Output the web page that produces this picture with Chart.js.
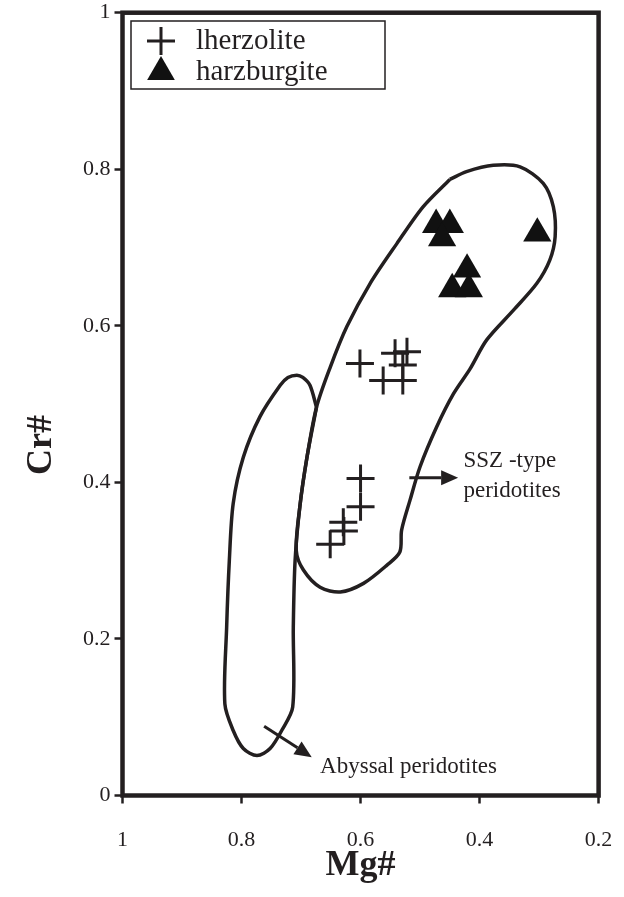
<!DOCTYPE html>
<html>
<head>
<meta charset="utf-8">
<script src="https://cdn.jsdelivr.net/npm/chart.js@4.4.1/dist/chart.umd.min.js"></script>
<style>
  html, body { margin: 0; padding: 0; background: #fff; }
  #wrap { width: 624px; height: 897px; position: relative; }
</style>
</head>
<body>
<div id="wrap"><canvas id="c" width="624" height="897"></canvas></div>
<script>
// Spinel Mg# vs Cr# discrimination diagram

// Lherzolite samples
const lherzMg = [0.601, 0.562, 0.542, 0.522, 0.529, 0.529, 0.600, 0.600, 0.629, 0.628, 0.651];
const lherzCr = [0.552, 0.530, 0.565, 0.567, 0.550, 0.530, 0.405, 0.369, 0.349, 0.338, 0.321];

// Harzburgite samples
const harzMg = [0.473, 0.450, 0.463, 0.303, 0.421, 0.446, 0.418];
const harzCr = [0.729, 0.729, 0.712, 0.718, 0.672, 0.647, 0.647];

// SSZ-type peridotite field outline
const sszMg = [0.450, 0.422, 0.377, 0.332, 0.293, 0.276, 0.273, 0.282, 0.304, 0.343, 0.388, 0.416,
               0.444, 0.472, 0.500, 0.517, 0.531, 0.534, 0.556, 0.595, 0.634, 0.668, 0.696, 0.708,
               0.702, 0.690, 0.674, 0.651, 0.623, 0.584, 0.539, 0.495, 0.450];
const sszCr = [0.787, 0.797, 0.805, 0.803, 0.782, 0.752, 0.714, 0.684, 0.654, 0.620, 0.582, 0.545,
               0.513, 0.471, 0.420, 0.377, 0.339, 0.311, 0.294, 0.271, 0.260, 0.266, 0.288, 0.313,
               0.369, 0.432, 0.496, 0.547, 0.599, 0.654, 0.705, 0.752, 0.787];

// Abyssal peridotite field outline
const abyMg = [0.674, 0.685, 0.697, 0.707, 0.722, 0.735, 0.769, 0.797, 0.814, 0.8205, 0.825, 0.828,
               0.814, 0.797, 0.774, 0.752, 0.7325, 0.714, 0.713, 0.710, 0.702, 0.690, 0.674];
const abyCr = [0.496, 0.524, 0.534, 0.537, 0.534, 0.524, 0.484, 0.432, 0.373, 0.300, 0.215, 0.117,
               0.083, 0.060, 0.051, 0.060, 0.083, 0.113, 0.215, 0.300, 0.369, 0.432, 0.496];

// Field label arrows (tail -> head)
const sszArrowMg = [0.518, 0.436];
const sszArrowCr = [0.406, 0.406];
const abyArrowMg = [0.762, 0.682];
const abyArrowCr = [0.0886, 0.049];

// Field labels
const fieldLabels = [
  { lines: ['SSZ -type', 'peridotites'], mg: 0.427, cr: 0.427 },
  { lines: ['Abyssal peridotites'], mg: 0.668, cr: 0.037 }
];

// Axis ticks
const xTicks = [1, 0.8, 0.6, 0.4, 0.2];
const yTicks = [0, 0.2, 0.4, 0.6, 0.8, 1];
const xTickLabels = ['1', '0.8', '0.6', '0.4', '0.2'];
const yTickLabels = ['0', '0.2', '0.4', '0.6', '0.8', '1'];

const INK = '#231f20';
const SERIF = "'Liberation Serif', 'Times New Roman', serif";

const pts = (xs, ys) => xs.map((x, i) => ({ x, y: ys[i] }));

const decorPlugin = {
  id: 'decor',
  afterDatasetsDraw(chart) {
    const { ctx, chartArea: a, scales: { x, y } } = chart;
    ctx.save();

    // arrows
    const arrow = (mg, cr) => {
      const x1 = x.getPixelForValue(mg[0]), y1 = y.getPixelForValue(cr[0]);
      const x2 = x.getPixelForValue(mg[1]), y2 = y.getPixelForValue(cr[1]);
      const ang = Math.atan2(y2 - y1, x2 - x1);
      const hl = 17, hw = 7.5;
      const bx = x2 - Math.cos(ang) * hl, by = y2 - Math.sin(ang) * hl;
      ctx.strokeStyle = INK; ctx.fillStyle = INK; ctx.lineWidth = 3;
      ctx.beginPath(); ctx.moveTo(x1, y1); ctx.lineTo(bx, by); ctx.stroke();
      ctx.beginPath();
      ctx.moveTo(x2, y2);
      ctx.lineTo(bx + Math.sin(ang) * hw, by - Math.cos(ang) * hw);
      ctx.lineTo(bx - Math.sin(ang) * hw, by + Math.cos(ang) * hw);
      ctx.closePath(); ctx.fill();
    };
    arrow(sszArrowMg, sszArrowCr);
    arrow(abyArrowMg, abyArrowCr);

    // field labels
    ctx.fillStyle = INK;
    ctx.font = '23px ' + SERIF;
    ctx.textAlign = 'left';
    ctx.textBaseline = 'middle';
    fieldLabels.forEach(l => {
      const px = x.getPixelForValue(l.mg), py = y.getPixelForValue(l.cr);
      l.lines.forEach((t, i) => ctx.fillText(t, px, py + i * 30));
    });

    // plot frame
    ctx.strokeStyle = INK; ctx.lineWidth = 4.5;
    ctx.strokeRect(a.left, a.top, a.right - a.left, a.bottom - a.top);

    // legend
    const lx = 131, ly = 21, lw = 254, lh = 68;
    ctx.fillStyle = '#fff';
    ctx.fillRect(lx, ly, lw, lh);
    ctx.lineWidth = 1.5; ctx.strokeStyle = INK;
    ctx.strokeRect(lx, ly, lw, lh);
    const ds = chart.data.datasets;
    const items = [ds[2], ds[3]];
    items.forEach((d, i) => {
      const cy = ly + 20 + i * 31;
      ctx.fillStyle = d.backgroundColor; ctx.strokeStyle = d.borderColor;
      ctx.lineWidth = d.borderWidth || 1;
      Chart.helpers.drawPoint(ctx, {
        pointStyle: d.pointStyle, radius: d.pointStyle === 'triangle' ? 16 : 14,
        borderWidth: d.borderWidth, rotation: 0
      }, 161, cy);
    });
    ctx.fillStyle = INK;
    ctx.font = '29px ' + SERIF;
    ctx.textAlign = 'left'; ctx.textBaseline = 'middle';
    items.forEach((d, i) => ctx.fillText(d.label, 196, ly + 20 + i * 31));

    // axis titles
    ctx.font = 'bold 36px ' + SERIF;
    ctx.textAlign = 'center'; ctx.textBaseline = 'middle';
    ctx.fillText('Mg#', (a.left + a.right) / 2, 866);
    ctx.save();
    ctx.translate(42, 445);
    ctx.rotate(-Math.PI / 2);
    ctx.fillText('Cr#', 0, 0);
    ctx.restore();

    ctx.restore();
  }
};

const outline = (data) => ({
  type: 'line',
  data,
  borderColor: INK,
  borderWidth: 3.5,
  pointRadius: 0,
  tension: 0.3,
  fill: false,
  clip: false
});

new Chart(document.getElementById('c'), {
  type: 'scatter',
  data: {
    datasets: [
      Object.assign(outline(pts(sszMg, sszCr)), { label: 'SSZ-type peridotites' }),
      Object.assign(outline(pts(abyMg, abyCr)), { label: 'Abyssal peridotites' }),
      {
        label: 'lherzolite',
        data: pts(lherzMg, lherzCr),
        pointStyle: 'cross',
        pointRadius: 14,
        borderWidth: 3,
        borderColor: INK,
        backgroundColor: INK
      },
      {
        label: 'harzburgite',
        data: pts(harzMg, harzCr),
        pointStyle: 'triangle',
        pointRadius: 16.3,
        borderWidth: 0,
        borderColor: INK,
        backgroundColor: '#111'
      }
    ]
  },
  options: {
    responsive: false,
    animation: false,
    devicePixelRatio: 1,
    layout: { autoPadding: false, padding: { top: 12.7, right: 25.4, left: 0, bottom: 0 } },
    plugins: { legend: { display: false }, tooltip: { enabled: false } },
    scales: {
      x: {
        type: 'linear', reverse: true, min: 0.2, max: 1,
        afterFit: s => { s.height = 101.5; s.paddingLeft = 0; s.paddingRight = 0; },
        afterBuildTicks: s => { s.ticks = xTicks.map(v => ({ value: v })); },
        ticks: {
          callback: (v) => xTickLabels[xTicks.indexOf(v)],
          font: { family: SERIF, size: 22 }, color: INK, padding: 24, maxRotation: 0
        },
        grid: { drawOnChartArea: false, drawTicks: true, tickLength: 8, tickWidth: 2.5, tickColor: INK },
        border: { display: false }
      },
      y: {
        type: 'linear', min: 0, max: 1,
        afterFit: s => { s.width = 122.5; s.paddingTop = 0; s.paddingBottom = 0; },
        afterBuildTicks: s => { s.ticks = yTicks.map(v => ({ value: v })); },
        ticks: {
          callback: (v) => yTickLabels[yTicks.indexOf(v)],
          font: { family: SERIF, size: 22 }, color: INK, padding: 4
        },
        grid: { drawOnChartArea: false, drawTicks: true, tickLength: 8, tickWidth: 2.5, tickColor: INK },
        border: { display: false }
      }
    }
  },
  plugins: [decorPlugin]
});
</script>
</body>
</html>
